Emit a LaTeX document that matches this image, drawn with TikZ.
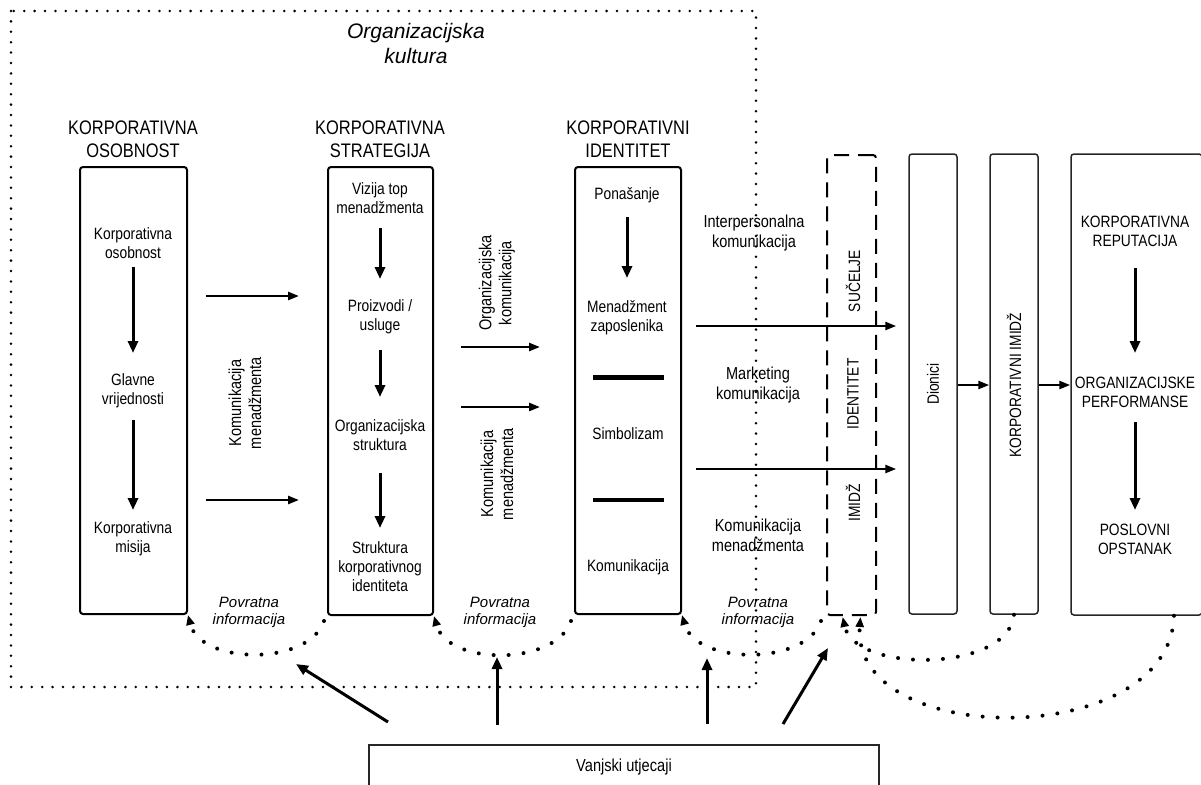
\documentclass[tikz,border=0pt]{standalone}
\usepackage{fontspec}
\setmainfont{Liberation Sans}
\newfontfamily\nar[FakeStretch=0.84]{Liberation Sans}
\usetikzlibrary{arrows.meta,calc}
\begin{document}
\begin{tikzpicture}[x=1pt,y=-1pt,
  ttl/.style={font=\nar\fontsize{19.6}{22.7}\selectfont,align=center,inner sep=0pt},
  inr/.style={font=\nar\fontsize{16.4}{19}\selectfont,align=center,inner sep=0pt},
  lbl/.style={font=\nar\fontsize{17.3}{20}\selectfont,align=center,inner sep=0pt},
  rlb/.style={font=\nar\fontsize{16.4}{19}\selectfont,align=center,inner sep=0pt},
  fbl/.style={font=\itshape\fontsize{15}{17}\selectfont,align=center,inner sep=0pt},
  okl/.style={font=\itshape\fontsize{21}{25}\selectfont,align=center,inner sep=0pt},
  mainbox/.style={draw=black,line width=2pt,rounded corners=3pt,inner sep=0pt},
  thinbox/.style={draw=black!85,line width=1.5pt,rounded corners=3pt,inner sep=0pt},
  dashbox/.style={draw=black,line width=2pt,rounded corners=3pt,dash pattern=on 15pt off 9pt,inner sep=0pt},
  varr/.style={line width=3pt,-{Triangle[length=12pt,width=10pt]}},
  harr/.style={line width=2.5pt,-{Triangle[length=11pt,width=8pt]}},
  fb/.style={line width=4pt,line cap=round,dash pattern=on 0pt off 15pt,-{Triangle[length=10pt,width=8pt]}},
  odot/.style={line width=2.8pt,line cap=round,dash pattern=on 0pt off 10.4pt},
  sepline/.style={line width=4.7pt}
]
\useasboundingbox (0,0) rectangle (1201,784);

% boxes
\node[mainbox,minimum width=107pt,minimum height=447pt] (b1) at (133.5,390.5) {};
\node[mainbox,minimum width=105pt,minimum height=448pt] (b2) at (380.5,391) {};
\node[mainbox,minimum width=106pt,minimum height=447pt] (b3) at (628,390.5) {};
\node[dashbox,minimum width=49pt,minimum height=460pt] (ds) at (851.5,385) {};
\node[thinbox,minimum width=48pt,minimum height=460pt] (dio) at (933,384) {};
\node[thinbox,minimum width=48pt,minimum height=460pt] (ki) at (1014,384) {};
\node[thinbox,minimum width=131pt,minimum height=461pt] (rb) at (1136.5,384.5) {};
\node[thinbox,rounded corners=0pt,minimum width=510pt,minimum height=44pt,font=\nar\fontsize{17.4}{20}\selectfont] (vu) at (624,767) {Vanjski utjecaji};

% titles
\node[okl] (ok) at (416,43) {Organizacijska\\kultura};
\node[ttl] (t1) at (133,139) {KORPORATIVNA\\OSOBNOST};
\node[ttl] (t2) at (380,139.5) {KORPORATIVNA\\STRATEGIJA};
\node[ttl] (t3) at (628,139.5) {KORPORATIVNI\\IDENTITET};

% box 1
\node[inr] (k1) at (133,243) {Korporativna\\osobnost};
\node[inr] (k2) at (133,391) {Glavne\\vrijednosti};
\node[inr] (k3) at (133,539) {Korporativna\\misija};
\draw[varr,shorten <=24pt,shorten >=38pt] (k1.center) -- (k2.center);
\draw[varr,shorten <=29pt,shorten >=29pt] (k2.center) -- (k3.center);

% box 2
\node[inr] (s1) at (380,198) {Vizija top\\menadžmenta};
\node[inr] (s2) at (380,317) {Proizvodi /\\usluge};
\node[inr] (s3) at (380,435) {Organizacijska\\struktura};
\node[inr] (s4) at (380,567) {Struktura\\korporativnog\\identiteta};
\draw[varr,shorten <=30pt,shorten >=38pt] (s1.center) -- (s2.center);
\draw[varr,shorten <=33pt,shorten >=38pt] (s2.center) -- (s3.center);
\draw[varr,shorten <=38pt,shorten >=39pt] (s3.center) -- (s4.center);

% box 3
\node[inr] (i1) at (627,195) {Ponašanje};
\node[inr] (i2) at (627,318) {Menadžment\\zaposlenika};
\node[inr] (i3) at (628,434) {Simbolizam};
\node[inr] (i4) at (628,567) {Komunikacija};
\draw[varr,shorten <=22pt,shorten >=40pt] (i1.center) -- (i2.center);
\draw[sepline] (593,377.5) -- (664,377.5);
\draw[sepline] (593,500) -- (664,500);

% right box
\node[rlb] (r1) at (1135,231) {KORPORATIVNA\\REPUTACIJA};
\node[rlb] (r2) at (1135,392) {ORGANIZACIJSKE\\PERFORMANSE};
\node[rlb] (r3) at (1135,539) {POSLOVNI\\OPSTANAK};
\draw[varr,shorten <=37pt,shorten >=39pt] (r1.center) -- (r2.center);
\draw[varr,shorten <=30pt,shorten >=29pt] (r2.center) -- (r3.center);

% rotated labels
\node[rlb,rotate=90] (suc) at (853,281) {SUČELJE};
\node[rlb,rotate=90] (idt) at (853,394) {IDENTITET};
\node[rlb,rotate=90] (imd) at (853,503) {IMIDŽ};
\node[rlb,rotate=90] (dt) at (933,384) {Dionici};
\node[rlb,rotate=90] (kit) at (1014,385) {KORPORATIVNI IMIDŽ};
\node[lbl,rotate=90] (km1) at (245,403) {Komunikacija\\menadžmenta};
\node[lbl,rotate=90] (oko) at (497,283) {Organizacijska\\komunikacija};
\node[lbl,rotate=90] (km2) at (497,474) {Komunikacija\\menadžmenta};

% labels right of box 3
\node[lbl] (ip) at (754,233) {Interpersonalna\\komunikacija};
\node[lbl] (mk) at (758,385) {Marketing\\komunikacija};
\node[lbl] (km3) at (758,535) {Komunikacija\\menadžmenta};

% feedback labels
\node[fbl] (p1) at (249,612) {Povratna\\informacija};
\node[fbl] (p2) at (500,612) {Povratna\\informacija};
\node[fbl] (p3) at (758,612) {Povratna\\informacija};

% horizontal arrows
\draw[harr,shorten <=18pt,shorten >=28pt] ([yshift=94.5pt]b1.east) -- ([yshift=95pt]b2.west);
\draw[harr,shorten <=18pt,shorten >=28pt] ([yshift=-109.5pt]b1.east) -- ([yshift=-109pt]b2.west);
\draw[harr,shorten <=27pt,shorten >=34pt] ([yshift=44pt]b2.east) -- ([yshift=43.5pt]b3.west);
\draw[harr,shorten <=27pt,shorten >=34pt] ([yshift=-16pt]b2.east) -- ([yshift=-16.5pt]b3.west);
\draw[harr,shorten <=14pt,shorten >=12pt] ([yshift=64.5pt]b3.east) -- ([yshift=58pt]dio.west);
\draw[harr,shorten <=14pt,shorten >=12pt] ([yshift=-78.5pt]b3.east) -- ([yshift=-85pt]dio.west);
\draw[harr] ([yshift=-1pt]dio.east) -- ([yshift=-1pt]ki.west);
\draw[harr] ([yshift=-1pt]ki.east) -- ([yshift=-0.5pt]rb.west);

% feedback arcs
\draw[fb] ([shift={(-3pt,-5pt)}]b2.south west) .. controls +(-15,45) and +(13,50) .. (b1.south east);
\draw[fb] ([shift={(-3pt,-6pt)}]b3.south west) .. controls +(-15,45) and +(14,50) .. (b2.south east);
\draw[fb] ([shift={(-5pt,-5pt)}]ds.south west) .. controls +(-15,45) and +(14,50) .. (b3.south east);
\draw[fb,shorten >=1pt] (ki.south) .. controls +(-6,58) and +(12,57) .. ([xshift=-9pt]ds.south);
\draw[fb,shorten >=1pt] ([xshift=37.5pt]rb.south) .. controls +(-4,135) and +(-10,133) .. ([xshift=9pt]ds.south);

% external influences
\coordinate (v1a) at (388,722); \coordinate (v1b) at (296,664);
\coordinate (v2a) at (497,725); \coordinate (v2b) at (497,657);
\coordinate (v3a) at (707,724); \coordinate (v3b) at (707,658);
\coordinate (v4a) at (783,724); \coordinate (v4b) at (828,648);
\draw[varr] (v1a) -- (v1b);
\draw[varr] (v2a) -- (v2b);
\draw[varr] (v3a) -- (v3b);
\draw[varr] (v4a) -- (v4b);

% organisational culture frame
\draw[odot] (11,11) rectangle (756,687);
\end{tikzpicture}
\end{document}
